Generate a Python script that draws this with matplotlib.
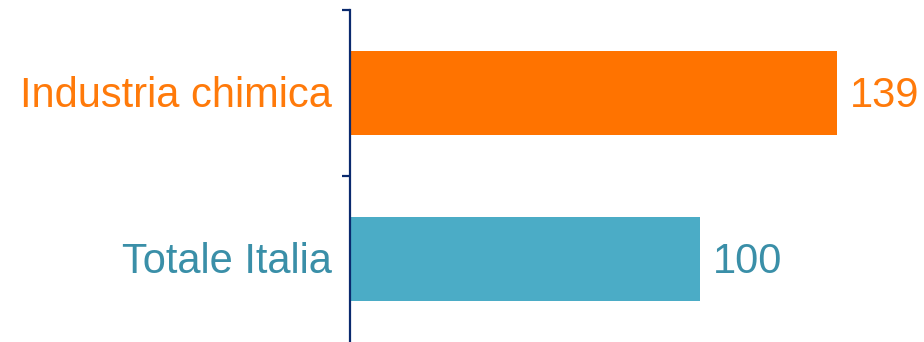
import matplotlib
matplotlib.use("Agg")
import matplotlib.pyplot as plt

categories = ["Totale Italia", "Industria chimica"]
values = [100, 139]
bar_colors = ["#4BACC6", "#FF7300"]
text_colors = ["#3A8FA8", "#FF7A0A"]

plt.rcParams['font.family'] = ['Liberation Sans', 'DejaVu Sans']

fig = plt.figure(figsize=(9.24, 3.42), dpi=100)
ax = fig.add_axes([350/924, 0.0, 1 - 350/924, 332/342])

ypos = list(range(len(categories)))
ax.barh(ypos, values, height=0.51, color=bar_colors)
ax.set_xlim(0, 164)
ax.set_ylim(-0.5, len(categories) - 0.5)

for spine in ["top", "right", "bottom"]:
    ax.spines[spine].set_visible(False)
ax.spines["left"].set_color("#0A2A6E")
ax.spines["left"].set_linewidth(1.6)
ax.set_xticks([])
ax.set_yticks([y + 0.5 for y in ypos])
ax.set_yticklabels([])
ax.tick_params(axis="y", direction="out", length=6, width=1.6, color="#0A2A6E")

for y, cat, v, tc in zip(ypos, categories, values, text_colors):
    ax.annotate(cat, xy=(0, y), xytext=(-18, -3), textcoords="offset pixels",
                ha="right", va="center", fontsize=30, color=tc)
    ax.annotate(str(v), xy=(v, y), xytext=(13, -3), textcoords="offset pixels",
                ha="left", va="center", fontsize=30, color=tc)

fig.savefig("out.png", dpi=100)
